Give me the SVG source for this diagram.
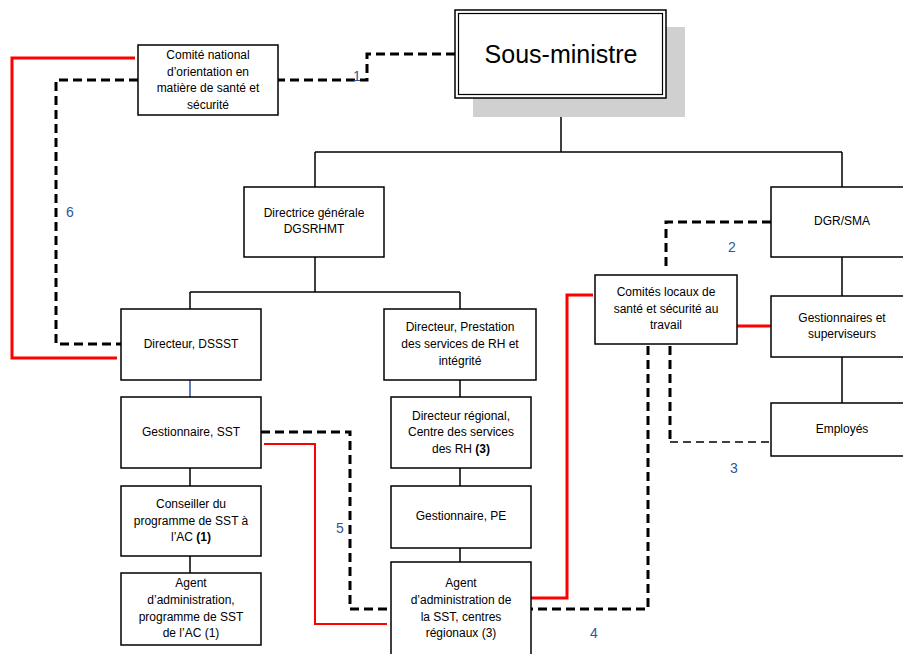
<svg xmlns="http://www.w3.org/2000/svg" width="903" height="654" viewBox="0 0 903 654">
<style>
.box{fill:#fff;stroke:#000;stroke-width:1.5}
.t{font-family:"Liberation Sans",Arial,sans-serif;font-size:12px;fill:#000;text-anchor:middle}
.n{font-family:"Liberation Sans",Arial,sans-serif;font-size:14px;fill:#2f5597;text-anchor:middle}
.solid{fill:none;stroke:#000;stroke-width:1.5}
.dash{fill:none;stroke:#000;stroke-width:3;stroke-dasharray:9,5}
.dashthin{fill:none;stroke:#000;stroke-width:1.5;stroke-dasharray:8,5}
.red{fill:none;stroke:#ff0000;stroke-width:3}
.redthin{fill:none;stroke:#ff0000;stroke-width:2}
</style>
<rect width="903" height="654" fill="#fff"/>
<g id="connectors">
<path class="solid" d="M561 98V152M315 152H842M315 152V187M842 152V187M315 257V292M190 292H460M190 292V309M460 292V309M460 380V397M460 468V486M460 548V562M190 468V486M190 556V573M842 257V296M842 357V403"/>
<path d="M190 380V397" fill="none" stroke="#2f5597" stroke-width="1.5"/>
<path class="dash" d="M455 54H367V80H278"/>
<path class="dash" d="M138 80H56V344H121"/>
<path class="red" d="M135 58H12V358H117"/>
<path class="dash" d="M261 432H350V609H391"/>
<path class="redthin" d="M264 444H315V624H387"/>
<path class="dash" d="M771 222H666V268"/>
<path class="red" d="M593 295H567V598H528"/>
<path class="red" d="M737 326H771"/>
<path class="dash" d="M648 346V609H531"/>
<path class="dash" d="M670 346V442"/>
<path class="dashthin" d="M670 442H771"/>
<text class="n" x="357" y="81">1</text>
<text class="n" x="732" y="252">2</text>
<text class="n" x="734" y="473">3</text>
<text class="n" x="594" y="638">4</text>
<text class="n" x="340" y="533">5</text>
<text class="n" x="70" y="217">6</text>
</g>
<g id="sous-ministre">
<rect x="473" y="27" width="212" height="90" fill="#d0d0d0"/>
<rect class="box" x="455" y="10" width="211" height="88"/>
<rect x="458.5" y="13.5" width="204" height="81" fill="none" stroke="#000" stroke-width="1.2"/>
<text class="t" x="561" y="63" style="font-size:25px">Sous-ministre</text>
</g>
<g id="comite-national">
<rect class="box" x="138" y="45" width="140" height="70"/>
<text class="t" x="208" y="59">Comité national</text>
<text class="t" x="208" y="76">d’orientation en</text>
<text class="t" x="208" y="92">matière de santé et</text>
<text class="t" x="208" y="109">sécurité</text>
</g>
<g id="directrice">
<rect class="box" x="244" y="187" width="140" height="70"/>
<text class="t" x="314" y="217">Directrice générale</text>
<text class="t" x="314" y="233">DGSRHMT</text>
</g>
<g id="dsssst">
<rect class="box" x="121" y="309" width="140" height="71"/>
<text class="t" x="191" y="348">Directeur, DSSST</text>
</g>
<g id="prestation">
<rect class="box" x="384" y="309" width="152" height="71"/>
<text class="t" x="460" y="331">Directeur, Prestation</text>
<text class="t" x="460" y="348">des services de RH et</text>
<text class="t" x="460" y="365">intégrité</text>
</g>
<g id="gestionnaire-sst">
<rect class="box" x="121" y="397" width="140" height="71"/>
<text class="t" x="191" y="436">Gestionnaire, SST</text>
</g>
<g id="conseiller">
<rect class="box" x="121" y="486" width="140" height="70"/>
<text class="t" x="191" y="508">Conseiller du</text>
<text class="t" x="191" y="525">programme de SST à</text>
<text class="t" x="191" y="541">l’AC <tspan font-weight="bold">(1)</tspan></text>
</g>
<g id="agent-ac">
<rect class="box" x="121" y="573" width="140" height="72"/>
<text class="t" x="191" y="587">Agent</text>
<text class="t" x="191" y="604">d’administration,</text>
<text class="t" x="191" y="621">programme de SST</text>
<text class="t" x="191" y="637">de l’AC (1)</text>
</g>
<g id="directeur-regional">
<rect class="box" x="391" y="397" width="140" height="71"/>
<text class="t" x="461" y="420">Directeur régional,</text>
<text class="t" x="461" y="436">Centre des services</text>
<text class="t" x="461" y="453">des RH <tspan font-weight="bold">(3)</tspan></text>
</g>
<g id="gestionnaire-pe">
<rect class="box" x="391" y="486" width="140" height="62"/>
<text class="t" x="461" y="520">Gestionnaire, PE</text>
</g>
<g id="agent-sst">
<rect class="box" x="391" y="562" width="140" height="100"/>
<text class="t" x="461" y="587">Agent</text>
<text class="t" x="461" y="604">d’administration de</text>
<text class="t" x="461" y="621">la SST, centres</text>
<text class="t" x="461" y="637">régionaux (3)</text>
</g>
<g id="comites-locaux">
<rect class="box" x="595" y="275" width="142" height="69"/>
<text class="t" x="666" y="296">Comités locaux de</text>
<text class="t" x="666" y="313">santé et sécurité au</text>
<text class="t" x="666" y="329">travail</text>
</g>
<g id="dgr-sma">
<rect class="box" x="771" y="187" width="140" height="70"/>
<text class="t" x="842" y="225">DGR/SMA</text>
</g>
<g id="gestionnaires-superviseurs">
<rect class="box" x="771" y="296" width="140" height="61"/>
<text class="t" x="842" y="322">Gestionnaires et</text>
<text class="t" x="842" y="338">superviseurs</text>
</g>
<g id="employes">
<rect class="box" x="771" y="403" width="140" height="53"/>
<text class="t" x="842" y="433">Employés</text>
</g>
</svg>
